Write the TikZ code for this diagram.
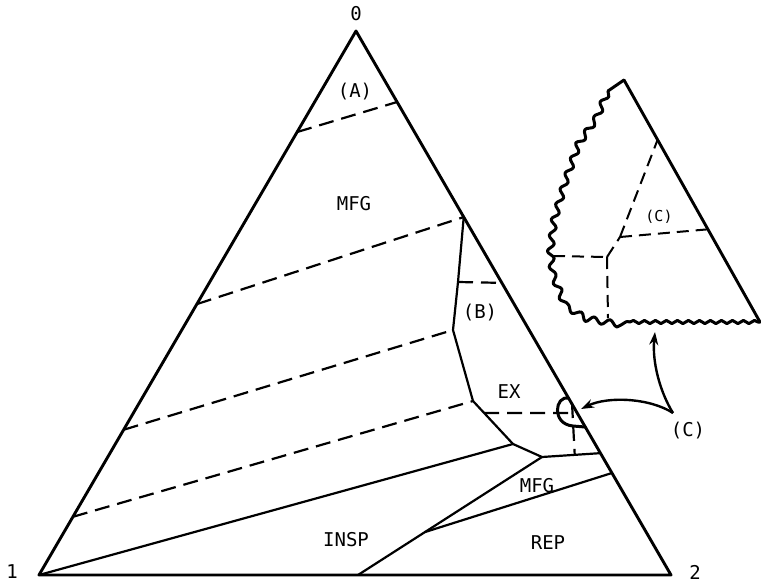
\documentclass[tikz,border=0pt]{standalone}
\usepackage{fontspec}
\setmonofont{DejaVu Sans Mono}
\usetikzlibrary{calc,arrows.meta,decorations.pathmorphing}
\begin{document}
\begin{tikzpicture}[x=1pt,y=-1pt,
  edge/.style={line width=2.9pt, line cap=round, line join=round},
  bound/.style={line width=2.2pt, line join=round},
  dsh/.style={line width=2.2pt, dash pattern=on 15pt off 8pt},
  idsh/.style={line width=2pt, dash pattern=on 12pt off 7pt},
  lbl/.style={font=\fontsize{19}{19}\ttfamily, inner sep=0pt},
  slbl/.style={font=\fontsize{15}{15}\ttfamily, inner sep=0pt},
  wavyL/.style={line width=3pt, line join=round, line cap=round, decorate, decoration={snake, segment length=16pt, amplitude=3pt}},
  wavyB/.style={line width=3pt, line join=round, line cap=round, decorate, decoration={snake, segment length=11pt, amplitude=1.6pt}},
  arr/.style={line width=2.4pt, -{Stealth[length=13pt,width=9pt]}}]
\useasboundingbox (0,0) rectangle (761,584);
% triangle vertices
\coordinate (A) at (356,31);
\coordinate (L) at (39,575);
\coordinate (R) at (671,575);
% edge points
\coordinate (r1) at ($(A)!0.1305!(R)$);
\coordinate (l1) at ($(A)!0.1857!(L)$);
\coordinate (r2) at ($(A)!0.342!(R)$);
\coordinate (l2) at ($(A)!0.502!(L)$);
\coordinate (l3) at ($(A)!0.733!(L)$);
\coordinate (l4) at ($(A)!0.893!(L)$);
\coordinate (rB) at ($(A)!0.463!(R)$);
\coordinate (rH) at ($(A)!0.702!(R)$);
\coordinate (e453) at ($(A)!0.776!(R)$);
\coordinate (e473) at ($(A)!0.8125!(R)$);
\coordinate (bt) at ($(A)!0.675!(R)$);
\coordinate (bb) at ($(A)!0.728!(R)$);
% interior points
\coordinate (P1) at (458,282);
\coordinate (P2) at (453,330);
\coordinate (P3) at (473,401);
\coordinate (P4) at (513,444);
\coordinate (P5) at (542,457);
\coordinate (Q) at ($(P3)!0.28!(P4)$);
\coordinate (B1) at (358,575);
\coordinate (J) at ($(B1)!0.364!(P5)$);
\coordinate (vt) at (572,403);
\coordinate (vb) at ($(P5)!0.56!(e453)$);
% triangle
\draw[edge] (A) -- (R) -- (L) -- cycle;
% dashed tie lines
\draw[dsh] (l1) -- (r1);
\draw[dsh] (l2) -- (r2);
\draw[dsh] (l3) -- (P2);
\draw[dsh] (l4) -- (P3);
\draw[dsh] (P1) -- (rB);
\draw[dsh] (Q) -- (rH);
\draw[dsh] (vt) -- (vb);
% solid boundaries
\draw[bound] (r2) -- (P1) -- (P2) -- (P3) -- (P4) -- (P5) -- (e453);
\draw[bound] (L) -- (P4);
\draw[bound] (B1) -- (P5);
\draw[bound] (J) -- (e473);
% small marked region
\draw[line width=3pt, line cap=round] (bt) .. controls (555,395) and (551,424) .. (573,426) -- (bb);
% labels
\node[lbl] (n0) at (356,14) {0};
\node[lbl] (n1) at (12,572) {1};
\node[lbl] (n2) at (695,572) {2};
\node[lbl] (lA) at (355,92) {(A)};
\node[lbl] (lMFG1) at (354,204) {MFG};
\node[lbl] (lB) at (480,313) {(B)};
\node[lbl] (lEX) at (509,392) {EX};
\node[lbl] (lMFG2) at (537,486) {MFG};
\node[lbl] (lINSP) at (346,540) {INSP};
\node[lbl] (lREP) at (548,543) {REP};
\node[lbl] (lC) at (688,431) {(C)};
% inset
\coordinate (iA) at (624,80);
\coordinate (iR) at (760,322);
\coordinate (i1) at ($(iA)!0.247!(iR)$);
\coordinate (i2) at ($(iA)!0.617!(iR)$);
\coordinate (iJ1) at (607,257);
\coordinate (iJ2) at (620,237);
\coordinate (iW) at (553,256);
\coordinate (iB) at (608,318);
\draw[edge] (iA) -- (iR);
\draw[line width=3pt, line cap=round] (iA) -- (608,91);
\draw[wavyL] (608,91) -- (597,117) -- (579,143) -- (567,177) -- (556,215) -- (552,248) -- (555,275) -- (565,300) -- (590,315) -- (630,322);
\draw[wavyB] (630,322) -- (760,322);
\draw[idsh] (iW) -- (iJ1);
\draw[idsh] (iJ1) -- (iB);
\draw[idsh] (iJ1) -- (iJ2);
\draw[idsh] (iJ2) -- (i1);
\draw[idsh] (iJ2) -- (i2);
\node[slbl] (iC) at (659,217) {(C)};
% arrows
\coordinate (cs) at (673,413);
\coordinate (t1) at (581,409);
\coordinate (t2) at (655,332);
\draw[arr] (cs) .. controls (650,398) and (608,396) .. (t1);
\draw[arr] (cs) .. controls (660,392) and (652,362) .. (t2);
\end{tikzpicture}
\end{document}
